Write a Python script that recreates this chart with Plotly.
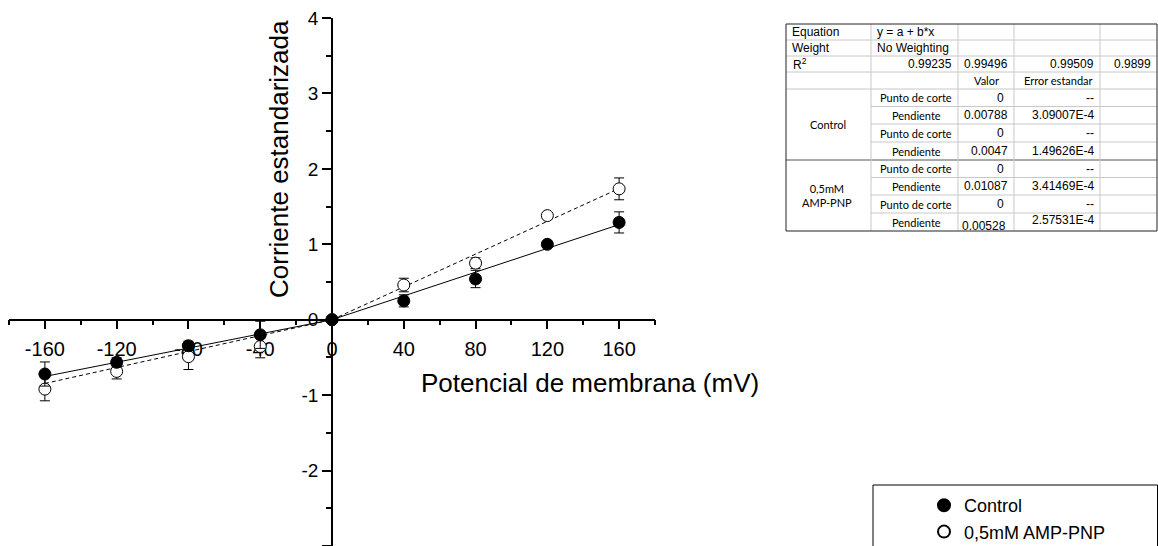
import plotly.graph_objects as go

# ---------------- data ----------------
voltages = [-160, -120, -80, -40, 0, 40, 80, 120, 160]
control_current = [-0.72, -0.565, -0.345, -0.20, 0.0, 0.25, 0.54, 1.00, 1.29]
control_err = [0.16, 0.06, 0.06, 0.18, 0.0, 0.08, 0.115, 0.03, 0.14]
amp_current = [-0.92, -0.685, -0.49, -0.355, 0.0, 0.46, 0.75, 1.38, 1.735]
amp_err = [0.155, 0.10, 0.17, 0.15, 0.0, 0.09, 0.07, 0.03, 0.145]

# fitted slopes (from the fit table)
control_slope_neg = 0.0047
control_slope_pos = 0.00788
amp_slope_neg = 0.00528
amp_slope_pos = 0.01087
fit_x_neg = [-160, 0]
fit_x_pos = [0, 160]

x_ticks = [-160, -120, -80, -40, 0, 40, 80, 120, 160]
y_ticks = [-3, -2, -1, 0, 1, 2, 3, 4]

series_names = ["Control", "0,5mM AMP-PNP"]

# fit table contents
table_top_rows = [
    ["Equation", "y = a + b*x"],
    ["Weight", "No Weighting"],
]
r2_values = ["0.99235", "0.99496", "0.99509", "0.9899"]
header_labels = ["Valor", "Error estandar"]
group_labels = ["Control", "0,5mM<br>AMP-PNP"]
param_names = ["Punto de corte", "Pendiente", "Punto de corte", "Pendiente"] * 2
param_values = ["0", "0.00788", "0", "0.0047", "0", "0.01087", "0", "0.00528"]
param_errors = ["--", "3.09007E-4", "--", "1.49626E-4", "--", "3.41469E-4", "--", "2.57531E-4"]

# ---------------- layout geometry ----------------
W, H = 1158, 546
ML, MR, MT, MB = 9, 503, 18, 0
PW = W - ML - MR
PH = H - MT - MB


def px(x):
    return (x - ML) / PW


def py(y):
    return (H - MB - y) / PH


FONT = "Liberation Sans, Arial, sans-serif"
CAL = "Lato, Liberation Sans, sans-serif"

fig = go.Figure()

# fit lines
fit_x = fit_x_neg + [None] + fit_x_pos
ctrl_fit_y = [control_slope_neg * v for v in fit_x_neg] + [None] + [control_slope_pos * v for v in fit_x_pos]
amp_fit_y = [amp_slope_neg * v for v in fit_x_neg] + [None] + [amp_slope_pos * v for v in fit_x_pos]

fig.add_trace(go.Scatter(x=fit_x, y=amp_fit_y, mode="lines", showlegend=False,
                         line=dict(color="black", width=1, dash="4px,3px"), hoverinfo="skip"))
fig.add_trace(go.Scatter(x=fit_x, y=ctrl_fit_y, mode="lines", showlegend=False,
                         line=dict(color="black", width=1), hoverinfo="skip"))

# data points
fig.add_trace(go.Scatter(
    x=voltages, y=amp_current, mode="markers", name=series_names[1], legendrank=2,
    marker=dict(symbol="circle", size=12, color="white", line=dict(color="black", width=1)),
    error_y=dict(type="data", array=amp_err, color="black", thickness=1, width=5),
))
fig.add_trace(go.Scatter(
    x=voltages, y=control_current, mode="markers", name=series_names[0], legendrank=1,
    marker=dict(symbol="circle", size=12, color="black", line=dict(color="black", width=1)),
    error_y=dict(type="data", array=control_err, color="black", thickness=1, width=5),
))

shapes = []
annotations = []

# axis titles
annotations.append(dict(x=px(279), y=py(159), xref="paper", yref="paper", text="Corriente estandarizada",
                        textangle=-90, showarrow=False, font=dict(family=FONT, size=26, color="black"),
                        xanchor="center", yanchor="middle"))
annotations.append(dict(x=px(590), y=py(383), xref="paper", yref="paper", text="Potencial de membrana (mV)",
                        showarrow=False, font=dict(family=FONT, size=26, color="black"),
                        xanchor="center", yanchor="middle"))

# ---------------- fit table ----------------
cols = [786, 871, 958, 1014, 1100, 1157]
rows = [24, 40, 56, 72, 89, 106.5, 124, 142, 160, 177.5, 195, 213, 231]
grid = "#c8c8c8"


def hline(y, x0, x1, color=grid, w=1):
    shapes.append(dict(type="line", xref="paper", yref="paper", x0=px(x0), x1=px(x1), y0=py(y), y1=py(y),
                       line=dict(color=color, width=w)))


def vline(x, y0, y1, color=grid, w=1):
    shapes.append(dict(type="line", xref="paper", yref="paper", x0=px(x), x1=px(x), y0=py(y0), y1=py(y1),
                       line=dict(color=color, width=w)))


for r in rows[1:-1]:
    if r in (106.5, 124, 142, 177.5, 195, 213):
        hline(r, cols[1], cols[5])
    elif r == 160:
        hline(r, cols[0], cols[5], color="#555555")
    else:
        hline(r, cols[0], cols[5])
for c in cols[1:-1]:
    vline(c, rows[0], rows[-1])
shapes.append(dict(type="rect", xref="paper", yref="paper", x0=px(cols[0]), x1=px(cols[5]),
                   y0=py(rows[-1]), y1=py(rows[0]), line=dict(color="#222222", width=1)))


def txt(x, y, s, anchor="left", family=FONT, size=11.5):
    annotations.append(dict(x=px(x), y=py(y), xref="paper", yref="paper", text=s, showarrow=False,
                            xanchor=anchor, yanchor="middle", font=dict(family=family, size=size, color="black")))


for i, (a, b) in enumerate(table_top_rows):
    yc = (rows[i] + rows[i + 1]) / 2
    txt(cols[0] + 4, yc, a, size=12)
    txt(cols[1] + 4, yc, b, size=12)
yc = (rows[2] + rows[3]) / 2
txt(cols[0] + 5, yc, "R<sup>2</sup>", size=12)
for j, v in enumerate(r2_values):
    txt(cols[j + 2] - 4, yc, v, anchor="right", size=12)
yc = (rows[3] + rows[4]) / 2
txt(986, yc, header_labels[0], anchor="center", family=CAL, size=11)
txt(1058, yc, header_labels[1], anchor="center", family=CAL, size=11)

txt(828, (rows[4] + rows[8]) / 2, group_labels[0], anchor="center", family=CAL, size=11)
txt(800, (rows[8] + rows[12]) / 2, group_labels[1], anchor="left", family=CAL, size=11)

for k in range(8):
    yc = (rows[4 + k] + rows[5 + k]) / 2
    txt(916, yc, param_names[k], anchor="center", family=CAL, size=11)
    val = param_values[k]
    if val == "0":
        txt(1006, yc, val, anchor="right", size=12)
    elif k == 7:
        txt(960, yc + 4, val, anchor="left", size=12)
    else:
        txt(1010, yc, val, anchor="right", size=12)
    err = param_errors[k]
    dy = -2 if k == 7 else 0
    txt(1096, yc + dy, err, anchor="right", size=12)

# legend border
shapes.append(dict(type="rect", xref="paper", yref="paper", x0=px(873), x1=px(1157.5),
                   y0=py(547), y1=py(485), line=dict(color="black", width=1)))

fig.update_layout(
    width=W, height=H,
    margin=dict(l=ML, r=MR, t=MT, b=MB, autoexpand=False),
    paper_bgcolor="white", plot_bgcolor="white",
    font=dict(family=FONT, color="black"),
    showlegend=True,
    legend=dict(x=px(924), y=py(487), xanchor="left", yanchor="top", bgcolor="rgba(0,0,0,0)",
                borderwidth=0, font=dict(family=FONT, size=18, color="black"), tracegroupgap=0,
                traceorder="normal", itemsizing="constant"),
    shapes=shapes, annotations=annotations,
    xaxis=dict(range=[-180, 180], anchor="free", position=3 / 7, showline=True, linecolor="black",
               linewidth=1.5, ticks="outside", ticklen=9, tickwidth=1.5, tickcolor="black",
               tickvals=x_ticks, ticktext=[str(v) for v in x_ticks], ticklabelstandoff=3,
               minor=dict(dtick=20, tick0=0, ticks="outside", ticklen=5, tickwidth=1.5, tickcolor="black"),
               showgrid=False, zeroline=False, tickfont=dict(family=FONT, size=20, color="black"),
               layer="below traces"),
    yaxis=dict(range=[-3, 4], anchor="free", position=0.5, showline=True, linecolor="black",
               linewidth=1.5, ticks="outside", ticklen=9, tickwidth=1.5, tickcolor="black",
               tickvals=y_ticks, ticktext=[str(v) for v in y_ticks],
               minor=dict(dtick=0.5, tick0=0, ticks="outside", ticklen=5, tickwidth=1.5, tickcolor="black"),
               showgrid=False, zeroline=False, tickfont=dict(family=FONT, size=19, color="black"),
               layer="below traces"),
)

fig.write_html("out.html")
